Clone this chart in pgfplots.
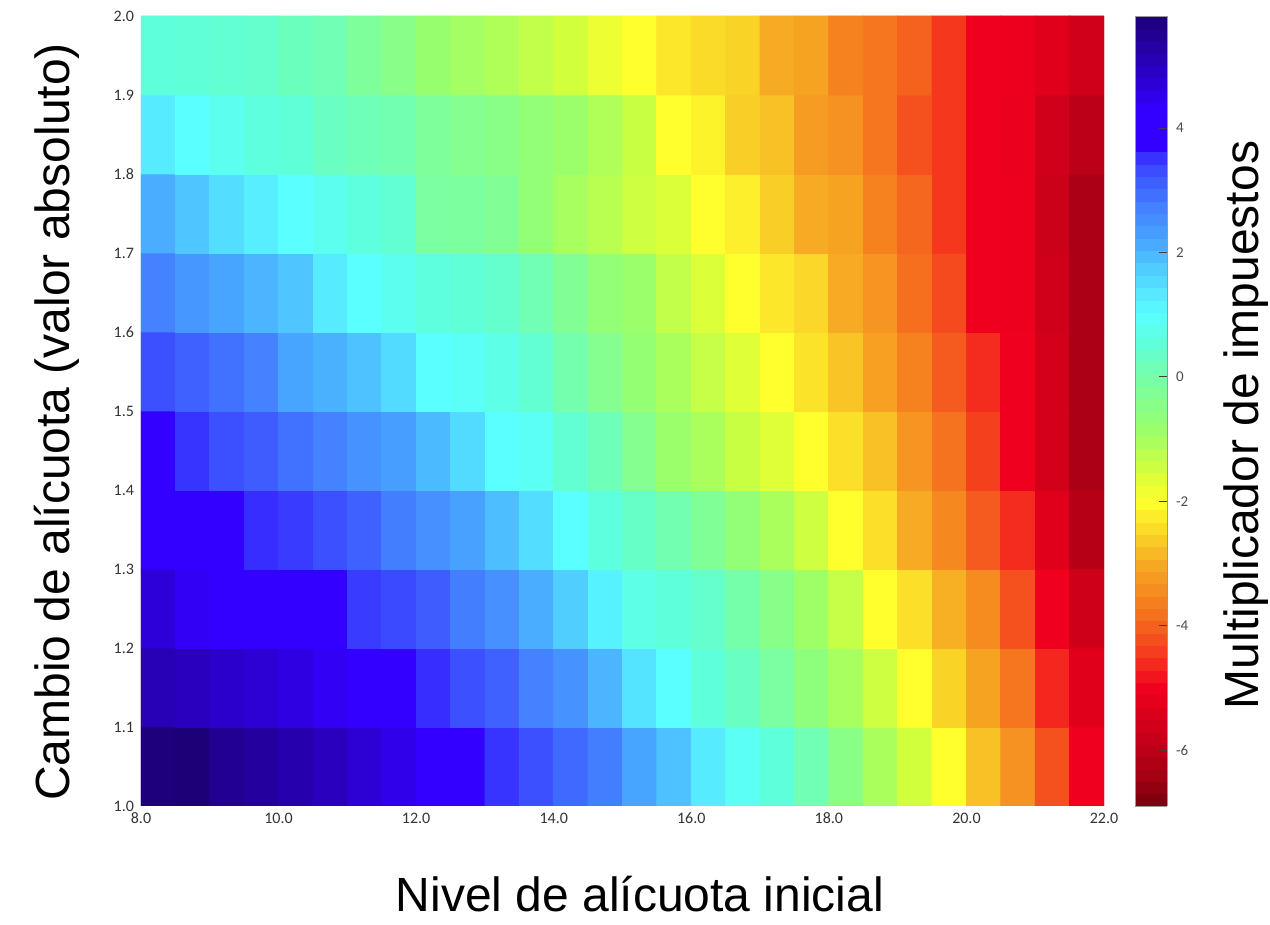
\documentclass[border=0pt]{standalone}
\usepackage{fontspec}
\setmainfont{Liberation Sans}
\newfontfamily\tickfont{Carlito}
\usepackage{pgfplots}
\pgfplotsset{compat=1.18}
\begin{document}
\begin{tikzpicture}
\useasboundingbox (-70.5pt,-59.5pt) rectangle (564.5pt,403pt);
\begin{axis}[
  at={(0,0)}, anchor=south west,
  scale only axis, width=481.5pt, height=395pt,
  xmin=8, xmax=22, ymin=1, ymax=2,
  axis line style={draw=none},
  tick style={draw=none},
  xtick={8,10,...,22}, ytick={1,1.1,...,2.01},
  /pgf/number format/assume math mode=true,
  xticklabel={\pgfmathprintnumber[fixed,fixed zerofill,precision=1]{\tick}},
  yticklabel={\pgfmathprintnumber[fixed,fixed zerofill,precision=1]{\tick}},
  ticklabel style={font=\tickfont\fontsize{8}{9}\selectfont, text=black!80},
  xticklabel style={yshift=0pt},
  colormap={revjet}{
    rgb255(0cm)=(120,0,15)
    rgb255(0.5cm)=(166,0,20)
    rgb255(1.9cm)=(240,0,30)
    rgb255(2.4cm)=(245,55,30)
    rgb255(2.8cm)=(245,90,30)
    rgb255(3.1cm)=(245,115,30)
    rgb255(3.9cm)=(247,170,35)
    rgb255(4.4cm)=(250,215,40)
    rgb255(4.9cm)=(255,255,45)
    rgb255(5.4cm)=(210,255,60)
    rgb255(6.1cm)=(150,255,110)
    rgb255(7.1cm)=(110,255,185)
    rgb255(7.4cm)=(95,255,215)
    rgb255(7.9cm)=(90,255,255)
    rgb255(8.5cm)=(82,215,255)
    rgb255(9.1cm)=(72,165,255)
    rgb255(9.6cm)=(68,130,255)
    rgb255(10.2cm)=(60,80,255)
    rgb255(10.45cm)=(55,45,255)
    rgb255(10.6cm)=(51,0,255)
    rgb255(11.2cm)=(51,0,255)
    rgb255(11.4cm)=(48,0,235)
    rgb255(11.9cm)=(42,0,190)
    rgb255(12.7cm)=(28,0,120)
  },
  point meta min=-6.9, point meta max=5.8,
  colorbar sampled,
  colorbar style={
    samples=65,
    at={(parent axis.north east)}, anchor=north west,
    xshift=7pt, width=16pt, height=395pt,
    ytick={-6,-4,...,4},
    ytick pos=right,
    tick align=inside,
    major tick length=4pt,
    tick style={draw=black!75, thin},
    axis line style={draw=black!40, thin},
    /pgf/number format/assume math mode=true,
    yticklabel style={font=\tickfont\fontsize{7.5}{8}\selectfont, text=black!70, xshift=1pt},
  },
]
\addplot[matrix plot*, mesh/cols=28, mesh/rows=10, point meta=explicit] coordinates {
(8.25,1.05)[5.75] (8.75,1.05)[5.8] (9.25,1.05)[5.5] (9.75,1.05)[5.35] (10.25,1.05)[5.2] (10.75,1.05)[5.0] (11.25,1.05)[4.75]
(11.75,1.05)[4.5] (12.25,1.05)[4.2] (12.75,1.05)[4.2] (13.25,1.05)[3.5] (13.75,1.05)[3.3] (14.25,1.05)[3.0] (14.75,1.05)[2.75]
(15.25,1.05)[2.2] (15.75,1.05)[1.85] (16.25,1.05)[1.3] (16.75,1.05)[0.85] (17.25,1.05)[0.55] (17.75,1.05)[0.15] (18.25,1.05)[-0.5]
(18.75,1.05)[-1.05] (19.25,1.05)[-1.5] (19.75,1.05)[-2.0] (20.25,1.05)[-2.75] (20.75,1.05)[-3.35] (21.25,1.05)[-4.2] (21.75,1.05)[-5.0]

(8.25,1.15)[5.1] (8.75,1.15)[5.0] (9.25,1.15)[4.85] (9.75,1.15)[4.75] (10.25,1.15)[4.6] (10.75,1.15)[4.4] (11.25,1.15)[4.2]
(11.75,1.15)[4.2] (12.25,1.15)[3.55] (12.75,1.15)[3.3] (13.25,1.15)[3.1] (13.75,1.15)[2.7] (14.25,1.15)[2.45] (14.75,1.15)[2.0]
(15.25,1.15)[1.4] (15.75,1.15)[1.0] (16.25,1.15)[0.55] (16.75,1.15)[0.3] (17.25,1.15)[-0.1] (17.75,1.15)[-0.6] (18.25,1.15)[-1.0]
(18.75,1.15)[-1.45] (19.25,1.15)[-2.0] (19.75,1.15)[-2.55] (20.25,1.15)[-3.1] (20.75,1.15)[-3.75] (21.25,1.15)[-4.65] (21.75,1.15)[-5.3]

(8.25,1.25)[4.7] (8.75,1.25)[4.4] (9.25,1.25)[4.2] (9.75,1.25)[4.2] (10.25,1.25)[4.2] (10.75,1.25)[4.2] (11.25,1.25)[3.45]
(11.75,1.25)[3.35] (12.25,1.25)[3.15] (12.75,1.25)[2.75] (13.25,1.25)[2.5] (13.75,1.25)[2.1] (14.25,1.25)[1.7] (14.75,1.25)[1.2]
(15.25,1.25)[0.7] (15.75,1.25)[0.55] (16.25,1.25)[0.4] (16.75,1.25)[0.0] (17.25,1.25)[-0.45] (17.75,1.25)[-0.9] (18.25,1.25)[-1.35]
(18.75,1.25)[-2.0] (19.25,1.25)[-2.4] (19.75,1.25)[-2.95] (20.25,1.25)[-3.45] (20.75,1.25)[-4.2] (21.25,1.25)[-5.0] (21.75,1.25)[-5.65]

(8.25,1.35)[4.2] (8.75,1.35)[4.2] (9.25,1.35)[4.2] (9.75,1.35)[3.55] (10.25,1.35)[3.45] (10.75,1.35)[3.3] (11.25,1.35)[3.1]
(11.75,1.35)[2.75] (12.25,1.35)[2.5] (12.75,1.35)[2.25] (13.25,1.35)[1.9] (13.75,1.35)[1.5] (14.25,1.35)[1.0] (14.75,1.35)[0.6]
(15.25,1.35)[0.35] (15.75,1.35)[0.1] (16.25,1.35)[-0.25] (16.75,1.35)[-0.7] (17.25,1.35)[-1.05] (17.75,1.35)[-1.45] (18.25,1.35)[-2.0]
(18.75,1.35)[-2.4] (19.25,1.35)[-3.0] (19.75,1.35)[-3.5] (20.25,1.35)[-4.1] (20.75,1.35)[-4.6] (21.25,1.35)[-5.3] (21.75,1.35)[-6.1]

(8.25,1.45)[4.2] (8.75,1.45)[3.5] (9.25,1.45)[3.3] (9.75,1.45)[3.15] (10.25,1.45)[2.9] (10.75,1.45)[2.7] (11.25,1.45)[2.45]
(11.75,1.45)[2.3] (12.25,1.45)[1.95] (12.75,1.45)[1.55] (13.25,1.45)[1.0] (13.75,1.45)[0.85] (14.25,1.45)[0.45] (14.75,1.45)[0.2]
(15.25,1.45)[-0.35] (15.75,1.45)[-0.85] (16.25,1.45)[-1.05] (16.75,1.45)[-1.4] (17.25,1.45)[-1.65] (17.75,1.45)[-2.0] (18.25,1.45)[-2.4]
(18.75,1.45)[-2.75] (19.25,1.45)[-3.3] (19.75,1.45)[-3.8] (20.25,1.45)[-4.4] (20.75,1.45)[-5.0] (21.25,1.45)[-5.55] (21.75,1.45)[-6.3]

(8.25,1.55)[3.3] (8.75,1.55)[3.1] (9.25,1.55)[2.9] (9.75,1.55)[2.7] (10.25,1.55)[2.2] (10.75,1.55)[2.05] (11.25,1.55)[1.85]
(11.75,1.55)[1.55] (12.25,1.55)[1.0] (12.75,1.55)[0.9] (13.25,1.55)[0.7] (13.75,1.55)[0.45] (14.25,1.55)[0.05] (14.75,1.55)[-0.35]
(15.25,1.55)[-0.75] (15.75,1.55)[-1.05] (16.25,1.55)[-1.35] (16.75,1.55)[-1.65] (17.25,1.55)[-2.0] (17.75,1.55)[-2.35] (18.25,1.55)[-2.7]
(18.75,1.55)[-3.15] (19.25,1.55)[-3.6] (19.75,1.55)[-4.1] (20.25,1.55)[-4.6] (20.75,1.55)[-5.0] (21.25,1.55)[-5.55] (21.75,1.55)[-6.3]

(8.25,1.65)[2.7] (8.75,1.65)[2.4] (9.25,1.65)[2.2] (9.75,1.65)[2.0] (10.25,1.65)[1.8] (10.75,1.65)[1.3] (11.25,1.65)[1.0]
(11.75,1.65)[0.8] (12.25,1.65)[0.6] (12.75,1.65)[0.5] (13.25,1.65)[0.4] (13.75,1.65)[0.15] (14.25,1.65)[-0.3] (14.75,1.65)[-0.7]
(15.25,1.65)[-0.85] (15.75,1.65)[-1.3] (16.25,1.65)[-1.6] (16.75,1.65)[-2.0] (17.25,1.65)[-2.3] (17.75,1.65)[-2.5] (18.25,1.65)[-3.0]
(18.75,1.65)[-3.3] (19.25,1.65)[-3.85] (19.75,1.65)[-4.3] (20.25,1.65)[-5.0] (20.75,1.65)[-5.05] (21.25,1.65)[-5.6] (21.75,1.65)[-6.3]

(8.25,1.75)[2.1] (8.75,1.75)[1.8] (9.25,1.75)[1.5] (9.75,1.75)[1.25] (10.25,1.75)[1.0] (10.75,1.75)[0.8] (11.25,1.75)[0.6]
(11.75,1.75)[0.45] (12.25,1.75)[-0.1] (12.75,1.75)[-0.15] (13.25,1.75)[-0.3] (13.75,1.75)[-0.7] (14.25,1.75)[-1.0] (14.75,1.75)[-1.2]
(15.25,1.75)[-1.45] (15.75,1.75)[-1.6] (16.25,1.75)[-2.0] (16.75,1.75)[-2.2] (17.25,1.75)[-2.6] (17.75,1.75)[-3.0] (18.25,1.75)[-3.1]
(18.75,1.75)[-3.6] (19.25,1.75)[-3.95] (19.75,1.75)[-4.5] (20.25,1.75)[-5.0] (20.75,1.75)[-5.05] (21.25,1.75)[-5.7] (21.75,1.75)[-6.3]

(8.25,1.85)[1.3] (8.75,1.85)[1.0] (9.25,1.85)[0.8] (9.75,1.85)[0.6] (10.25,1.85)[0.5] (10.75,1.85)[0.3] (11.25,1.85)[0.2]
(11.75,1.85)[0.1] (12.25,1.85)[-0.2] (12.75,1.85)[-0.35] (13.25,1.85)[-0.5] (13.75,1.85)[-0.7] (14.25,1.85)[-0.85] (14.75,1.85)[-1.1]
(15.25,1.85)[-1.4] (15.75,1.85)[-2.0] (16.25,1.85)[-2.15] (16.75,1.85)[-2.6] (17.25,1.85)[-2.75] (17.75,1.85)[-3.2] (18.25,1.85)[-3.35]
(18.75,1.85)[-3.75] (19.25,1.85)[-4.2] (19.75,1.85)[-4.5] (20.25,1.85)[-5.0] (20.75,1.85)[-5.1] (21.25,1.85)[-5.6] (21.75,1.85)[-6.0]

(8.25,1.95)[0.55] (8.75,1.95)[0.5] (9.25,1.95)[0.45] (9.75,1.95)[0.4] (10.25,1.95)[0.25] (10.75,1.95)[0.15] (11.25,1.95)[-0.2]
(11.75,1.95)[-0.45] (12.25,1.95)[-0.8] (12.75,1.95)[-0.95] (13.25,1.95)[-1.1] (13.75,1.95)[-1.3] (14.25,1.95)[-1.5] (14.75,1.95)[-1.8]
(15.25,1.95)[-2.0] (15.75,1.95)[-2.3] (16.25,1.95)[-2.45] (16.75,1.95)[-2.55] (17.25,1.95)[-3.0] (17.75,1.95)[-3.1] (18.25,1.95)[-3.6]
(18.75,1.95)[-3.75] (19.25,1.95)[-4.0] (19.75,1.95)[-4.5] (20.25,1.95)[-5.0] (20.75,1.95)[-5.05] (21.25,1.95)[-5.3] (21.75,1.95)[-5.6]
};
\end{axis}
\node[rotate=90, anchor=base, font=\fontsize{24}{28}\selectfont] at (-35.5pt,192pt) {Cambio de alícuota (valor absoluto)};
\node[anchor=base, font=\fontsize{24}{28}\selectfont, inner sep=0pt] at (249.5pt,-53pt) {Nivel de alícuota inicial};
\node[rotate=90, anchor=base, font=\fontsize{24}{28}\selectfont] at (558.5pt,190.5pt) {Multiplicador de impuestos};
\end{tikzpicture}
\end{document}
